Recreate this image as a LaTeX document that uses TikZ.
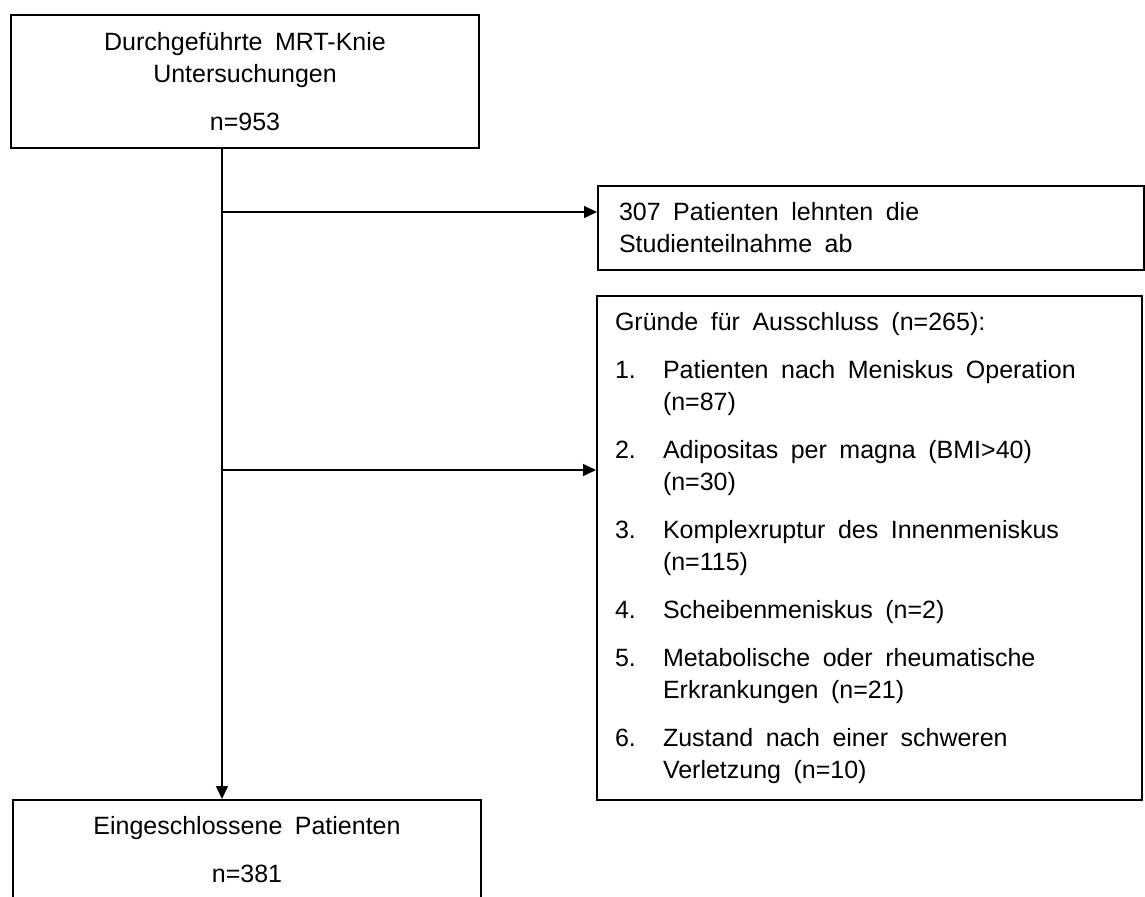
\documentclass[tikz,border=0pt]{standalone}
\usepackage{fontspec}
\setmainfont{Liberation Sans}
\usetikzlibrary{arrows.meta}

\newcommand{\listitem}[1]{\makebox[19.2pt][l]{#1}}

\tikzset{
  wide words/.style={execute at begin node={\spaceskip=5pt\relax}},
  flowbox/.style={draw, line width=0.8pt, inner sep=0pt, align=center,
    font=\fontsize{10}{12.8}\selectfont, wide words},
  listbox/.style={draw, line width=0.8pt, inner ysep=0pt, align=left,
    font=\fontsize{10}{12.8}\selectfont, wide words},
  flowarrow/.style={line width=0.55pt, -{Triangle[length=5.2pt,width=4.8pt]}}
}

\begin{document}
\begin{tikzpicture}[x=0.4pt,y=-0.4pt]
\useasboundingbox (0,0) rectangle (1145,896);
\clip (0,0) rectangle (1145,896);

\node[flowbox, minimum width=187.2pt, minimum height=53.2pt] (total) at (245,81.5)
  {Durchgeführte MRT-Knie\\Untersuchungen\\[6.4pt]n=953};

\node[flowbox, minimum width=187.2pt, minimum height=40pt] (included) at (247,850)
  {Eingeschlossene Patienten\\[6.4pt]n=381};

\node[listbox, minimum height=33.6pt, text width=201.6pt, inner xsep=8.4pt] (declined) at (871,228)
  {307 Patienten lehnten die\\Studienteilnahme ab};

\node[listbox, minimum height=201.6pt, text width=203.6pt, inner xsep=7.2pt] (excluded) at (869.5,548)
  {Gründe für Ausschluss (n=265):\\[6.4pt]
   \listitem{1.}Patienten nach Meniskus Operation\\ \listitem{}(n=87)\\[6.4pt]
   \listitem{2.}Adipositas per magna (BMI>40)\\ \listitem{}(n=30)\\[6.4pt]
   \listitem{3.}Komplexruptur des Innenmeniskus\\ \listitem{}(n=115)\\[6.4pt]
   \listitem{4.}Scheibenmeniskus (n=2)\\[6.4pt]
   \listitem{5.}Metabolische oder rheumatische\\ \listitem{}Erkrankungen (n=21)\\[6.4pt]
   \listitem{6.}Zustand nach einer schweren\\ \listitem{}Verletzung (n=10)};

% branch points on the main line
\coordinate (split1) at (222,212);
\coordinate (split2) at (222,470);

\draw[flowarrow] (total.south -| split1) -- (included.north -| split1);
\draw[flowarrow] (split1) -- (split1 -| declined.west);
\draw[flowarrow] (split2) -- (split2 -| excluded.west);

\end{tikzpicture}
\end{document}
